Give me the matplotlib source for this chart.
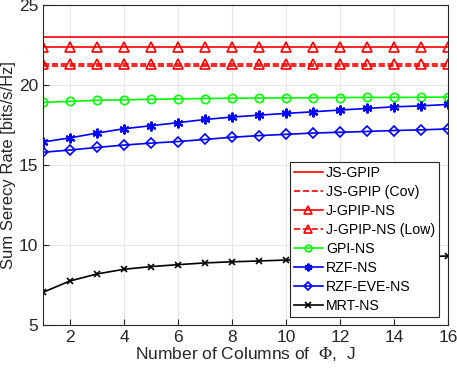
import matplotlib
matplotlib.use("Agg")
import matplotlib.pyplot as plt
import numpy as np

# данные
J = np.arange(1, 17)
js_gpip = [23.0] * 16
js_gpip_cov = [21.2] * 16
j_gpip_ns = [22.4] * 16
j_gpip_ns_low = [21.3] * 16
gpi_ns = [18.92, 18.98, 19.05, 19.08, 19.11, 19.14, 19.16, 19.18,
          19.19, 19.2, 19.21, 19.22, 19.23, 19.23, 19.24, 19.25]
rzf_ns = [16.44, 16.7, 17.0, 17.27, 17.46, 17.65, 17.85, 18.0,
          18.12, 18.23, 18.33, 18.44, 18.54, 18.64, 18.7, 18.79]
rzf_eve_ns = [15.8, 15.94, 16.1, 16.25, 16.37, 16.47, 16.6, 16.74,
              16.84, 16.92, 17.0, 17.05, 17.1, 17.16, 17.2, 17.26]
mrt_ns = [7.04, 7.75, 8.19, 8.48, 8.65, 8.77, 8.88, 8.95,
          9.0, 9.06, 9.11, 9.16, 9.2, 9.23, 9.27, 9.31]

plt.rcParams['font.family'] = ['Liberation Sans', 'DejaVu Sans']
plt.rcParams['mathtext.fontset'] = 'stix'
fig = plt.figure(figsize=(4.57, 3.68), dpi=100)
ax = fig.add_axes([0.094, 0.117, 0.886, 0.869])

red = '#ff0000'
green = '#00ff00'
blue = '#0000ff'
star = (6, 2, 0)  # звёздочка как в MATLAB

ax.plot(J, js_gpip, '-', color=red, lw=1.2, label='JS-GPIP')
ax.plot(J, js_gpip_cov, '--', color=red, lw=1.2, label='JS-GPIP (Cov)')
ax.plot(J, j_gpip_ns, '-^', color=red, lw=1.2, ms=7, mfc='none', mew=1.2, label='J-GPIP-NS')
ax.plot(J, j_gpip_ns_low, '--^', color=red, lw=1.2, ms=7, mfc='none', mew=1.2, label='J-GPIP-NS (Low)')
ax.plot(J, gpi_ns, '-o', color=green, lw=1.2, ms=6, mfc='none', mew=1.2, label='GPI-NS')
ax.plot(J, rzf_ns, '-', marker=star, color=blue, lw=1.2, ms=7, mew=1.5, label='RZF-NS')
ax.plot(J, rzf_eve_ns, '-D', color=blue, lw=1.2, ms=5.5, mfc='none', mew=1.2, label='RZF-EVE-NS')
ax.plot(J, mrt_ns, '-x', color='black', lw=1.2, ms=5, mew=1.2, label='MRT-NS')

ax.set_xlim(1, 16)
ax.set_ylim(5, 25)
ax.set_xticks(range(2, 17, 2))
ax.set_yticks([5, 10, 15, 20, 25])
ax.grid(True, color='#e6e6e6', lw=0.8)
ax.set_axisbelow(True)
ax.tick_params(direction='in', labelsize=12.5, colors='#262626', length=4)
for s in ax.spines.values():
    s.set_color('#262626')
    s.set_linewidth(0.8)

ax.set_xlabel(r'Number of Columns of  $\Phi$,  J', fontsize=12.5, color='#262626', labelpad=0)
ax.set_ylabel('Sum Serecy Rate [bits/s/Hz]', fontsize=12, color='#262626', labelpad=2)

leg = ax.legend(loc='upper left', bbox_to_anchor=(0.61, 0.509), fontsize=10.2,
                fancybox=False, framealpha=1, edgecolor='#262626', markerscale=0.8,
                handlelength=2.0, labelspacing=0.35, borderpad=0.3, handletextpad=0.25,
                borderaxespad=0)
leg.get_frame().set_linewidth(0.8)

plt.savefig('out.png', dpi=100)
